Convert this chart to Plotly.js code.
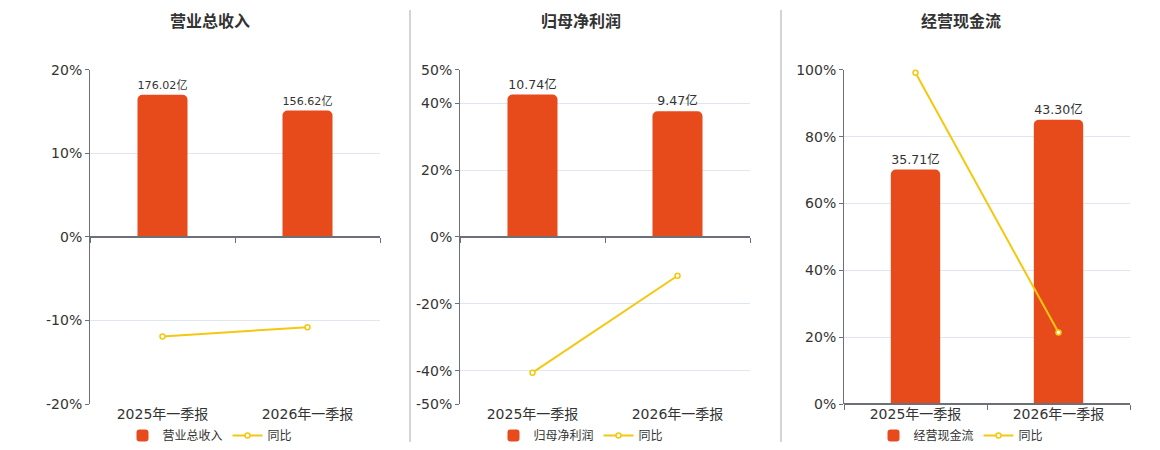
<!DOCTYPE html>
<html>
<head>
<meta charset="utf-8">
<script src="https://cdn.plot.ly/plotly-3.0.1.min.js"></script>
<style>
  html, body { margin: 0; padding: 0; background: #fff; }
  #chart { width: 1160px; height: 450px; }
</style>
</head>
<body>
<div id="chart"></div>
<script>
// data
var categories = ["2025年一季报", "2026年一季报"];
var panelTitles = ["营业总收入", "归母净利润", "经营现金流"];

var revenue = [176.02, 156.62];       // 亿
var revenueYoy = [-11.9, -10.8];      // %
var netProfit = [10.74, 9.47];
var netProfitYoy = [-40.6, -11.6];
var cashFlow = [35.71, 43.30];
var cashFlowYoy = [99.1, 21.4];

var pctTicks1 = [-20, -10, 0, 10, 20];
var pctTicks2 = [-50, -40, -20, 0, 20, 40, 50];
var pctTicks3 = [0, 20, 40, 60, 80, 100];

var FONT = "DejaVu Sans, Noto Sans CJK SC, sans-serif";
var BAR = "#E84B1B";
var LINE = "#F4C80F";
var AXIS = "#6E7079";
var GRID = "#E0E6F1";
var W = 1160, H = 450;

var yDomain = [1 - 405 / H, 1 - 70 / H];

var panels = [
    {bars: revenue, yoy: revenueYoy, ticks: pctTicks1, pct: [-20, 20], bar: [-207, 207],
     x0: 90, x1: 380, mid: 210},
    {bars: netProfit, yoy: netProfitYoy, ticks: pctTicks2, pct: [-50, 50], bar: [-12.6, 12.6],
     x0: 460, x1: 750, mid: 581},
    {bars: cashFlow, yoy: cashFlowYoy, ticks: pctTicks3, pct: [0, 100], bar: [0, 50.9],
     x0: 844, x1: 1130, mid: 961}
];

var data = [];
var layout = {
    width: W,
    height: H,
    margin: {l: 0, r: 0, t: 0, b: 0},
    paper_bgcolor: "#fff",
    plot_bgcolor: "rgba(0,0,0,0)",
    showlegend: true,
    barcornerradius: 5,
    font: {family: FONT, color: "#333", size: 12},
    annotations: [],
    shapes: []
};

panels.forEach(function(p, i) {
    var n = i + 1;
    var sfx = n === 1 ? "" : String(n);
    var lineX = "x" + (n + 3);
    var lineY = "y" + (n + 3);
    var legendName = n === 1 ? "legend" : "legend" + n;
    var xDomain = [p.x0 / W, p.x1 / W];
    var zeroPos = yDomain[0] + (0 - p.pct[0]) / (p.pct[1] - p.pct[0]) * (yDomain[1] - yDomain[0]);

    data.push({
        type: "bar",
        name: panelTitles[i],
        x: categories,
        y: p.bars,
        xaxis: "x" + sfx,
        yaxis: "y" + sfx,
        width: 0.345,
        marker: {color: BAR},
        text: p.bars.map(function(v) { return v.toFixed(2) + "亿"; }),
        textposition: "outside",
        textfont: {size: 12.5, color: "#333", family: FONT},
        cliponaxis: false,
        hoverinfo: "skip",
        legend: legendName
    });
    data.push({
        type: "scatter",
        mode: "lines+markers",
        name: "同比",
        x: categories,
        y: p.yoy,
        xaxis: lineX,
        yaxis: lineY,
        line: {color: LINE, width: 2},
        marker: {size: 5, color: "#fff", line: {color: LINE, width: 1.5}},
        cliponaxis: false,
        hoverinfo: "skip",
        legend: legendName
    });

    // bottom category axis with labels
    layout["xaxis" + sfx] = {
        domain: xDomain,
        anchor: "y" + sfx,
        type: "category",
        range: [-0.5, 1.5],
        showline: false,
        ticks: "",
        showgrid: false,
        zeroline: false,
        tickfont: {size: 14, color: "#333", family: FONT},
        fixedrange: true
    };
    // hidden bar value axis
    layout["yaxis" + sfx] = {
        domain: yDomain,
        anchor: "x" + sfx,
        range: p.bar,
        showgrid: false,
        zeroline: false,
        showline: false,
        showticklabels: false,
        ticks: "",
        fixedrange: true
    };
    // axis line through zero with boundary ticks
    layout["xaxis" + (n + 3)] = {
        domain: xDomain,
        overlaying: "x" + sfx,
        anchor: "free",
        position: zeroPos,
        type: "category",
        range: [-0.5, 1.5],
        tickson: "boundaries",
        ticks: "outside",
        ticklen: 5,
        tickcolor: AXIS,
        showline: true,
        linecolor: AXIS,
        linewidth: 2,
        showgrid: false,
        zeroline: false,
        showticklabels: false,
        fixedrange: true
    };
    // visible percent axis
    layout["yaxis" + (n + 3)] = {
        domain: yDomain,
        overlaying: "y" + sfx,
        anchor: lineX,
        side: "left",
        range: p.pct,
        tickmode: "array",
        tickvals: p.ticks,
        ticktext: p.ticks.map(function(v) { return v + "%"; }),
        ticks: "outside",
        ticklen: 4,
        tickcolor: AXIS,
        showline: true,
        linecolor: AXIS,
        linewidth: 1,
        showgrid: true,
        gridcolor: GRID,
        zeroline: false,
        tickfont: {size: 14, color: "#333", family: FONT},
        fixedrange: true
    };

    layout[legendName] = {
        orientation: "h",
        x: p.mid / W,
        xanchor: "center",
        y: 1 - 436 / H,
        yanchor: "middle",
        font: {size: 12, color: "#333", family: FONT},
        bgcolor: "rgba(0,0,0,0)",
        itemwidth: 30,
        tracegroupgap: 0
    };

    layout.annotations.push({
        xref: "paper", yref: "paper",
        x: p.mid / W, y: 1 - 22 / H,
        xanchor: "center", yanchor: "middle",
        text: "<b>" + panelTitles[i] + "</b>",
        showarrow: false,
        font: {size: 16, color: "#333", family: FONT}
    });
});

[410, 781].forEach(function(px) {
    layout.shapes.push({
        type: "line", xref: "paper", yref: "paper",
        x0: px / W, x1: px / W, y0: 1 - 10 / H, y1: 1 - 443 / H,
        line: {color: "#AAAAAA", width: 1}
    });
});

Plotly.newPlot("chart", data, layout, {displayModeBar: false, staticPlot: true});
</script>
</body>
</html>
